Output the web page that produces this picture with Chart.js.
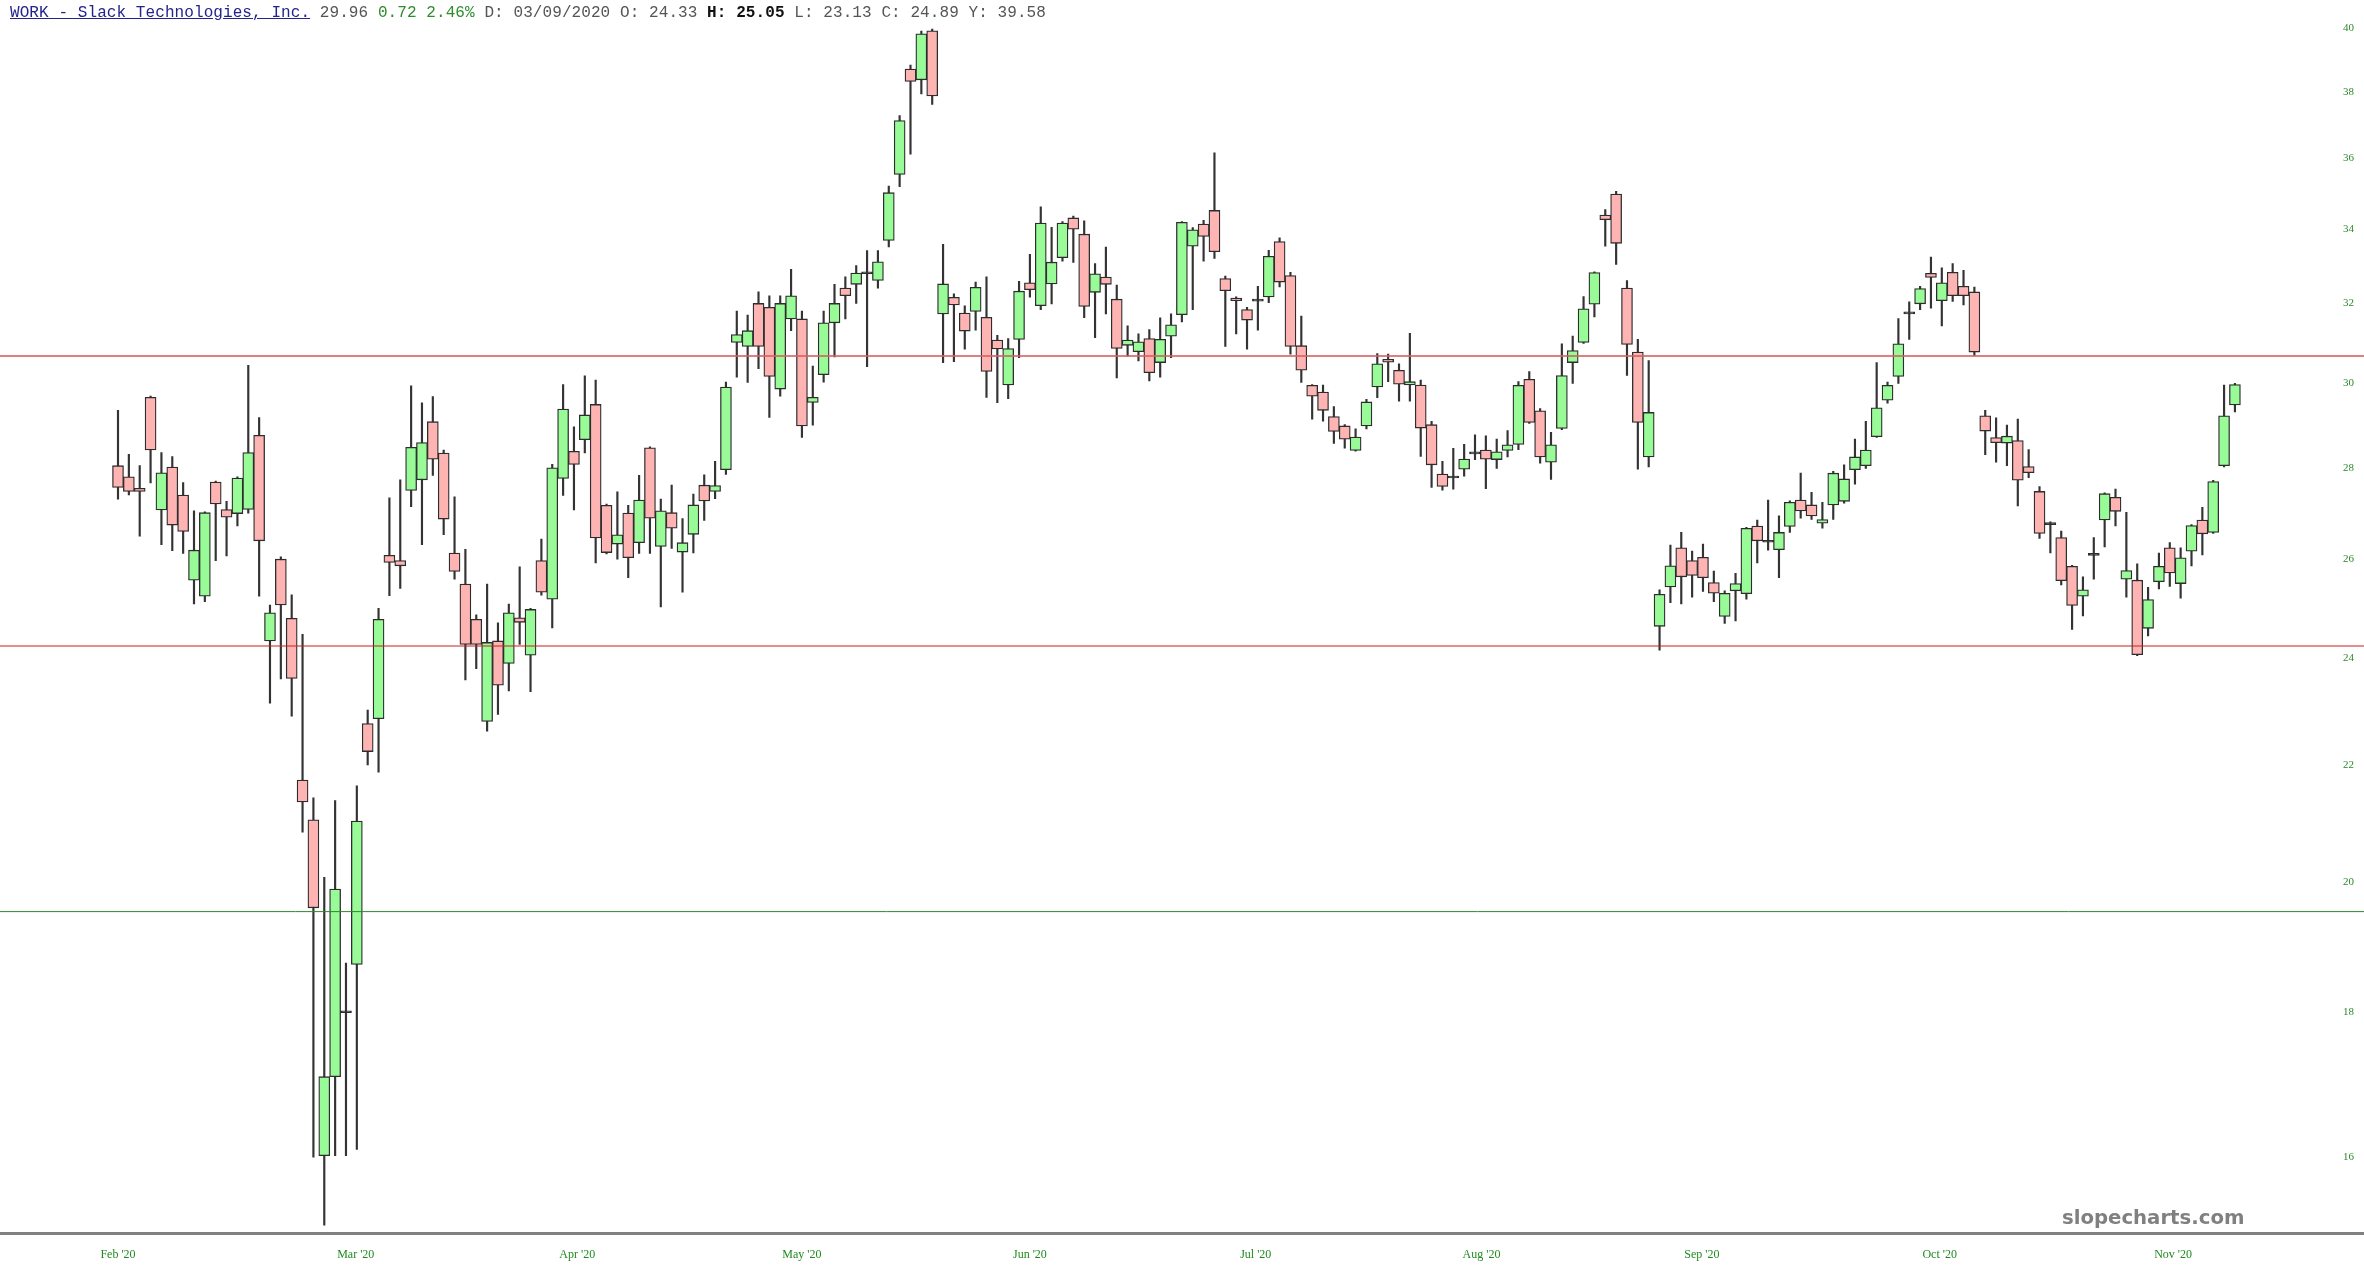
<!DOCTYPE html>
<html><head><meta charset="utf-8">
<script src="https://cdn.jsdelivr.net/npm/chart.js@4.4.0/dist/chart.umd.min.js"></script>
<style>
html,body{margin:0;padding:0;background:#fff;}
#wrap{position:relative;width:2364px;height:1276px;overflow:hidden;}
#c{position:absolute;left:0;top:0;}
#hdr{position:absolute;left:10px;top:4px;font:16px/18px "Liberation Mono",monospace;letter-spacing:0.08px;color:#555;white-space:pre;}
#hdr .t{color:#23238c;text-decoration:underline;}
#hdr .g{color:#2e8b2e;}
#hdr b{color:#111;}
#wm{position:absolute;left:2062px;top:1207px;font:bold 19.7px/22px "DejaVu Sans",sans-serif;color:#808080;}
</style></head><body>
<div id="wrap"><canvas id="c" width="2364" height="1276"></canvas>
<div id="hdr"><span class="t">WORK - Slack Technologies, Inc.</span> 29.96 <span class="g">0.72 2.46%</span> D: 03/09/2020 O: 24.33 <b>H: 25.05</b> L: 23.13 C: 24.89 Y: 39.58</div>
<div id="wm">slopecharts.com</div></div>
<script>
// ---- data (one entry per trading session, Feb 18 2020 onward) ----
const open = [28.05,27.80,27.54,29.65,27.06,28.02,27.39,25.56,25.23,27.68,27.07,26.98,27.07,28.75,24.33,26.00,24.78,21.73,21.04,16.02,
17.08,17.99,18.71,22.75,22.84,26.08,25.97,27.49,27.73,29.07,28.34,26.13,25.48,24.76,22.79,24.33,23.89,24.79,24.05,25.97,
25.17,27.76,28.38,28.65,29.48,27.16,26.32,26.99,26.35,28.46,26.27,27.00,26.15,26.53,27.61,27.47,27.96,31.00,30.90,32.00,
31.90,29.85,31.60,31.60,29.53,30.20,31.50,32.40,32.50,32.78,32.60,33.68,35.53,38.71,38.37,39.93,31.73,32.16,31.75,31.79,
31.64,31.06,29.95,31.08,32.54,31.94,32.51,33.21,34.30,33.85,32.29,32.69,32.11,30.93,30.77,31.10,30.50,31.16,31.71,33.52,
34.13,34.51,32.65,32.14,31.84,32.06,32.17,33.65,32.73,30.92,29.94,29.78,29.19,28.97,28.40,28.97,29.90,30.58,30.31,29.95,
29.95,29.00,27.86,27.77,27.97,28.32,28.41,28.19,28.40,28.54,30.09,29.33,28.13,28.91,30.50,31.00,31.98,34.38,34.97,32.40,
30.76,28.25,24.62,25.42,26.24,25.97,26.04,25.51,24.82,25.34,25.28,26.71,26.38,26.20,26.70,27.28,27.17,26.77,27.17,27.25,
27.96,28.05,28.72,29.58,30.16,31.73,31.99,32.79,32.07,32.82,32.45,32.30,29.21,28.70,28.57,28.63,28.03,27.47,26.76,26.46,
25.85,25.23,26.08,26.84,27.34,25.58,25.56,24.58,25.53,26.24,25.49,26.17,26.84,26.57,28.05,29.47];
const high = [29.34,28.31,28.05,29.68,28.35,28.26,27.67,27.04,27.02,27.70,27.25,27.80,30.43,29.17,25.05,26.05,25.26,24.46,21.42,20.08,
21.37,18.73,21.63,23.00,24.98,27.33,27.73,29.93,29.52,29.67,28.41,27.35,26.21,24.85,25.48,24.69,25.07,25.84,24.98,26.43,
28.08,29.96,28.95,30.17,30.07,27.19,27.46,27.16,27.83,28.48,27.30,27.61,26.87,27.41,27.84,28.15,30.02,31.80,31.70,32.30,
32.20,32.20,32.90,31.80,30.41,31.80,32.50,32.70,33.00,33.40,33.40,35.20,37.27,38.83,39.92,39.98,33.57,32.25,31.94,32.56,
32.70,31.18,31.10,32.58,33.30,34.61,34.04,34.20,34.35,34.22,33.05,33.50,32.48,31.42,31.22,31.33,31.63,31.73,34.20,34.03,
34.23,36.16,32.72,32.17,31.90,32.45,33.41,33.75,32.82,31.67,29.96,29.95,29.43,29.00,28.90,29.60,30.72,30.71,30.47,31.23,
30.07,29.08,28.15,28.45,28.54,28.76,28.74,28.66,28.86,30.03,30.28,29.38,28.82,30.97,31.16,32.18,32.83,34.53,35.05,32.60,
31.08,30.55,25.36,26.30,26.57,26.17,26.32,25.75,25.34,25.70,26.68,26.84,27.28,26.93,27.26,27.88,27.45,27.23,27.92,28.07,
28.66,29.08,30.50,30.02,31.61,32.04,32.45,33.23,32.94,33.05,32.87,32.43,29.34,29.16,28.99,29.13,28.42,27.58,26.80,26.60,
25.87,25.63,26.46,27.44,27.52,27.01,25.90,25.41,26.13,26.35,26.24,26.74,27.12,27.72,29.95,29.99];
const low = [27.30,27.39,26.49,27.66,26.31,26.18,26.12,25.07,25.12,25.97,26.07,26.71,26.99,25.23,23.13,23.59,22.89,20.83,16.00,15.14,
16.02,16.02,16.10,22.00,21.87,25.24,25.39,27.13,26.31,27.83,26.52,25.58,23.57,23.79,22.61,22.92,23.36,24.26,23.35,25.25,
24.59,27.38,27.06,28.34,25.92,26.11,26.00,25.61,26.12,26.12,25.01,26.23,25.31,26.13,26.83,27.31,27.85,30.14,30.01,30.35,
29.17,29.68,31.30,28.70,28.99,30.02,30.64,31.60,32.00,30.40,32.40,33.50,35.18,36.12,37.93,37.61,30.50,30.52,30.83,31.31,
29.65,29.52,29.62,30.62,32.16,31.84,31.99,33.12,33.08,31.63,31.12,31.73,30.12,30.66,30.54,30.05,30.14,30.62,31.52,31.84,
33.12,33.19,30.90,31.22,30.83,31.31,32.02,32.43,30.71,30.01,29.13,29.08,28.56,28.45,28.38,28.90,29.64,30.03,29.56,29.56,
28.26,27.56,27.50,27.52,27.81,28.19,27.53,27.99,28.25,28.42,29.03,28.11,27.74,28.88,29.99,30.98,31.65,33.52,33.03,30.18,
27.97,28.02,24.15,25.10,25.07,25.21,25.33,25.12,24.68,24.73,25.17,25.92,26.19,25.61,26.57,26.88,26.85,26.66,26.85,27.21,
27.63,27.99,28.70,29.51,29.99,31.08,31.84,31.88,31.42,32.05,31.96,30.68,28.30,28.13,28.05,27.15,27.78,26.44,26.13,25.46,
24.56,24.83,25.58,26.26,26.71,25.21,24.04,24.43,25.38,25.43,25.19,25.86,26.09,26.55,28.02,29.30];
const close = [27.56,27.47,27.47,28.41,27.89,26.73,26.59,26.19,27.00,27.19,26.90,27.77,28.35,26.39,24.89,25.05,23.60,21.35,19.59,17.08,
19.89,18.01,21.02,22.24,24.76,25.93,25.86,28.47,28.58,28.20,26.86,25.74,24.26,24.26,24.30,23.47,24.89,24.70,24.96,25.31,
28.00,29.37,28.08,29.23,26.45,26.14,26.52,26.03,27.28,26.88,27.04,26.66,26.35,27.17,27.26,27.60,29.90,31.20,31.30,30.90,
30.16,32.00,32.20,28.97,29.65,31.50,32.00,32.20,32.80,32.80,33.10,35.01,37.12,38.32,39.83,37.87,32.51,31.96,31.29,32.42,
30.28,30.84,30.85,32.32,32.36,34.16,33.09,34.16,33.99,31.92,32.78,32.50,30.85,31.06,31.02,30.25,31.08,31.45,34.18,33.97,
33.79,33.37,32.33,32.07,31.57,32.09,33.25,32.56,30.90,30.31,29.68,29.34,28.84,28.66,28.71,29.54,30.47,30.51,29.97,30.03,
28.92,28.07,27.58,27.81,28.20,28.34,28.20,28.37,28.53,29.94,29.05,28.25,28.53,30.18,30.80,31.86,32.81,34.25,33.60,30.95,
29.05,29.29,25.27,25.86,25.63,25.66,25.61,25.29,25.29,25.49,26.66,26.39,26.36,26.57,27.23,27.04,26.93,26.85,27.88,27.75,
28.25,28.41,29.40,29.94,30.97,31.75,32.39,32.68,32.54,32.20,32.20,30.76,28.85,28.58,28.73,27.72,27.89,26.55,26.74,25.55,
25.04,25.36,26.10,27.42,27.03,25.76,24.06,25.16,25.85,25.71,26.03,26.72,26.54,27.69,29.21,29.96];

const monthPos = [0, 21.9, 42.3, 63.0, 84.0, 104.8, 125.6, 145.9, 167.8, 189.3];
const monthLabels = ["Feb '20","Mar '20","Apr '20","May '20","Jun '20","Jul '20","Aug '20","Sep '20","Oct '20","Nov '20"];
const yTicks = [16, 18, 20, 22, 24, 26, 28, 30, 32, 34, 36, 38, 40];
const levels = [30.66, 24.23, 19.53];

// ---- build chart ----
const X_MIN = -10.87, X_MAX = 206.89;
const bodies = open.map((o, i) => ({x: i, y: [o, close[i]]}));
const wicks = open.map((o, i) => ({x: i, y: [low[i], high[i]]}));
const bodyFill = open.map((o, i) => Math.abs(close[i] - o) < 0.05 ? '#3a3a3a' : (close[i] >= o ? 'rgb(152,251,152)' : 'rgb(255,180,180)'));
const levelStyle = [
  {color: 'rgba(214,96,96,0.8)', width: 2},
  {color: 'rgb(204,30,30)', width: 1.2},
  {color: 'rgb(40,140,40)', width: 1}
];
const levelSets = levels.map((v, k) => ({
  type: 'line', data: [{x: X_MIN, y: v}, {x: X_MAX, y: v}],
  borderColor: levelStyle[k].color, borderWidth: levelStyle[k].width,
  pointRadius: 0, fill: false, tension: 0
}));

new Chart(document.getElementById('c'), {
  type: 'bar',
  data: {
    datasets: [
      ...levelSets,
      {type: 'bar', data: bodies, grouped: false, barThickness: 11, minBarLength: 2,
       backgroundColor: bodyFill, borderColor: '#2d2d2d', borderWidth: 1.3, borderSkipped: false},
      {type: 'bar', data: wicks, grouped: false, barThickness: 1.5,
       backgroundColor: '#333', borderWidth: 0}
    ]
  },
  options: {
    responsive: false, animation: false,
    layout: {padding: 0},
    plugins: {legend: {display: false}, tooltip: {enabled: false}, title: {display: false}},
    scales: {
      x: {
        type: 'linear', min: X_MIN, max: X_MAX, offset: false,
        afterBuildTicks: s => { s.ticks = monthPos.map(v => ({value: v})); },
        afterFit: s => { s.paddingLeft = 0; s.paddingRight = 0; },
        grid: {display: false, drawTicks: false, offset: false},
        border: {display: true, color: '#808080', width: 3},
        ticks: {autoSkip: false, maxRotation: 0, minRotation: 0, padding: 14, color: '#1f8a1f',
                font: {family: 'Liberation Serif', size: 12},
                callback: (v, i) => monthLabels[i]}
      },
      y: {
        type: 'logarithmic', position: 'right', min: 15.037, max: 40.939,
        afterBuildTicks: s => { s.ticks = yTicks.map(v => ({value: v})); },
        afterFit: s => { s.width = 0; s.paddingTop = 0; s.paddingBottom = 0; },
        grid: {display: false, drawTicks: false},
        border: {display: false},
        ticks: {mirror: true, padding: -10, color: '#2a8a2a',
                font: {family: 'Liberation Serif', size: 11},
                callback: v => String(v)}
      }
    }
  }
});
</script>
</body></html>
